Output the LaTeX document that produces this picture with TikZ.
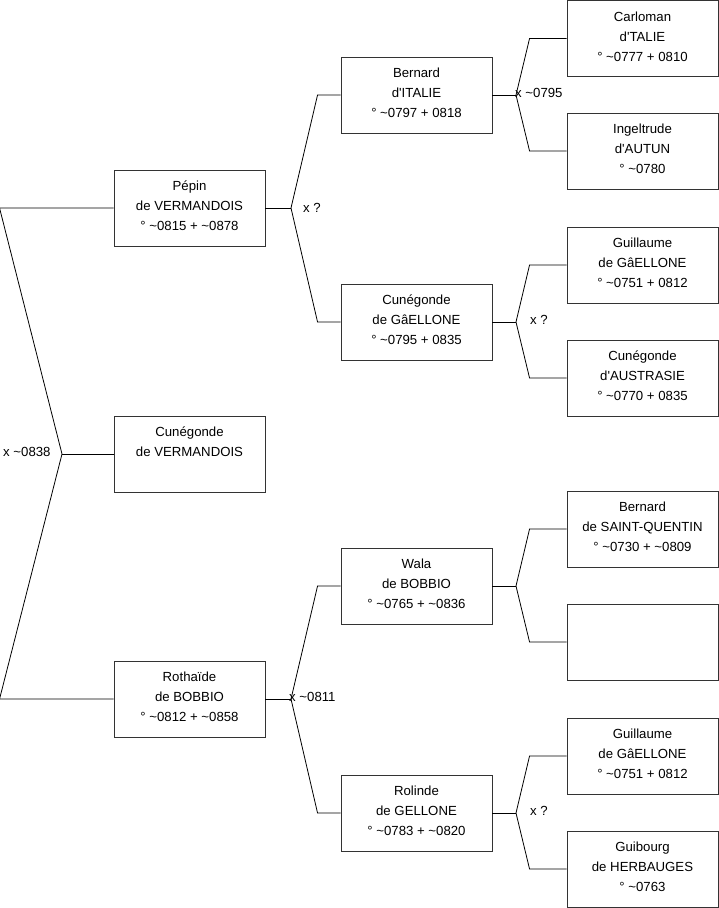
\documentclass[tikz,border=0pt]{standalone}
\usepackage{fontspec}
\setmainfont{Liberation Sans}
\newcommand{\bxt}[3]{#1\\#2\\#3\\[-16pt]\mbox{}}
\newcommand{\ap}{\textquotesingle}
\begin{document}
\begin{tikzpicture}[x=1pt,y=-1pt,
  box/.style={draw=black!80,line width=0.9pt,minimum width=151pt,minimum height=76pt,inner sep=0pt,
    align=center,font=\fontsize{13.2}{20}\selectfont},
  lbl/.style={anchor=west,inner sep=0pt,font=\fontsize{13.2}{15}\selectfont},
  con/.style={line width=0.8pt,black}]
\useasboundingbox (0,0) rectangle (719,908);
% generation 1
\node[box] (pepin) at (189.5,208) {\bxt{Pépin}{de VERMANDOIS}{° \textasciitilde0815 + \textasciitilde0878}};
\node[box] (cunv) at (189.5,454) {\bxt{Cunégonde}{de VERMANDOIS}{\mbox{}}};
\node[box] (roth) at (189.5,699) {\bxt{Rothaïde}{de BOBBIO}{° \textasciitilde0812 + \textasciitilde0858}};
% generation 2
\node[box] (bern) at (416.5,95) {\bxt{Bernard}{d\ap ITALIE}{° \textasciitilde0797 + 0818}};
\node[box] (cung) at (416.5,322) {\bxt{Cunégonde}{de GâELLONE}{° \textasciitilde0795 + 0835}};
\node[box] (wala) at (416.5,586) {\bxt{Wala}{de BOBBIO}{° \textasciitilde0765 + \textasciitilde0836}};
\node[box] (rol) at (416.5,813) {\bxt{Rolinde}{de GELLONE}{° \textasciitilde0783 + \textasciitilde0820}};
% generation 3
\node[box] (carl) at (642.5,38.5) {\bxt{Carloman}{d\ap TALIE}{° \textasciitilde0777 + 0810}};
\node[box] (inge) at (642.5,151) {\bxt{Ingeltrude}{d\ap AUTUN}{° \textasciitilde0780}};
\node[box] (guil1) at (642.5,265) {\bxt{Guillaume}{de GâELLONE}{° \textasciitilde0751 + 0812}};
\node[box] (cuna) at (642.5,378) {\bxt{Cunégonde}{d\ap AUSTRASIE}{° \textasciitilde0770 + 0835}};
\node[box] (bsq) at (642.5,529) {\bxt{Bernard}{de SAINT-QUENTIN}{° \textasciitilde0730 + \textasciitilde0809}};
\node[box] (empty) at (642.5,642) {};
\node[box] (guil2) at (642.5,756) {\bxt{Guillaume}{de GâELLONE}{° \textasciitilde0751 + 0812}};
\node[box] (guib) at (642.5,869) {\bxt{Guibourg}{de HERBAUGES}{° \textasciitilde0763}};
% junctions
\coordinate (j0) at (62,454);
\coordinate (j1) at (291,208);
\coordinate (j2) at (291,699);
\coordinate (j3) at (516,95);
\coordinate (j4) at (516,322);
\coordinate (j5) at (516,586);
\coordinate (j6) at (516,813);
% connectors
\draw[con] (pepin.west) -- ++(-114,0) -- (j0);
\draw[con] (roth.west) -- ++(-114,0) -- (j0);
\draw[con] (cunv.west) -- (j0);
\draw[con] (pepin.east) -- (j1);
\draw[con] (bern.west) -- ++(-23,0) -- (j1);
\draw[con] (cung.west) -- ++(-23,0) -- (j1);
\draw[con] (roth.east) -- (j2);
\draw[con] (wala.west) -- ++(-23,0) -- (j2);
\draw[con] (rol.west) -- ++(-23,0) -- (j2);
\draw[con] (bern.east) -- (j3);
\draw[con] (carl.west) -- ++(-37,0) -- (j3);
\draw[con] (inge.west) -- ++(-37,0) -- (j3);
\draw[con] (cung.east) -- (j4);
\draw[con] (guil1.west) -- ++(-37,0) -- (j4);
\draw[con] (cuna.west) -- ++(-37,0) -- (j4);
\draw[con] (wala.east) -- (j5);
\draw[con] (bsq.west) -- ++(-37,0) -- (j5);
\draw[con] (empty.west) -- ++(-37,0) -- (j5);
\draw[con] (rol.east) -- (j6);
\draw[con] (guil2.west) -- ++(-37,0) -- (j6);
\draw[con] (guib.west) -- ++(-37,0) -- (j6);
% labels
\node[lbl] (l0) at (3,452) {x \textasciitilde0838};
\node[lbl] (l1) at (303,208) {x ?};
\node[lbl] (l2) at (515,93) {x \textasciitilde0795};
\node[lbl] (l3) at (530,320) {x ?};
\node[lbl] (l4) at (289,697) {x \textasciitilde0811};
\node[lbl] (l5) at (530,811) {x ?};
\end{tikzpicture}
\end{document}
